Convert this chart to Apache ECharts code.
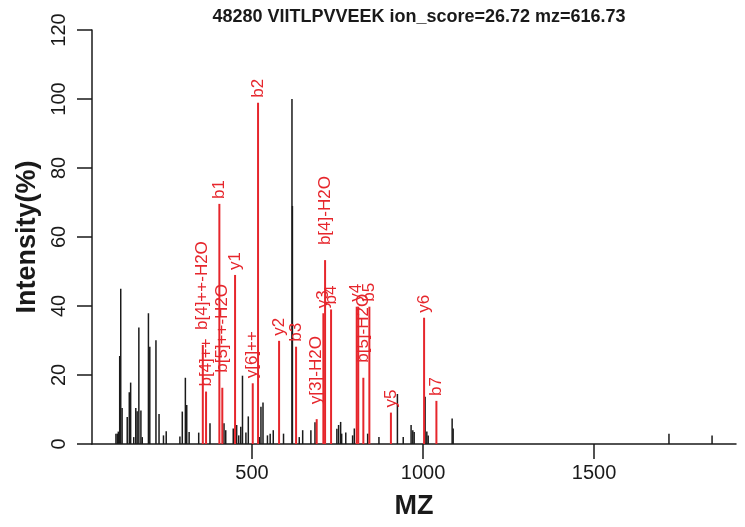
<!DOCTYPE html>
<html><head><meta charset="utf-8">
<script src="https://cdn.jsdelivr.net/npm/echarts@6/dist/echarts.min.js"></script>
<style>html,body{margin:0;padding:0;background:#fff}#c{width:745px;height:527px}</style>
</head><body><div id="c"></div>
<script>
const titleText = '48280 VIITLPVVEEK ion_score=26.72 mz=616.73';
const xTicks = [500, 1000, 1500];
// unmatched (black) peaks
const blackMz = [102,106,109,113,116,120,135,141,145,154,160,164,169,175,179,197,201,219,228,241,249,289,296,305,309,316,344,377,418,423,445,455,461,467,472,482,489,521,526,532,545,553,562,592,616.7,618,638,648,672,684,748,753,759,762,774,794,799,838,871,925,942,965,970,974,1006,1011,1015,1085,1088,1719,1845];
const blackInt = [3,3,3.6,25.5,45,10.4,7.8,15,17.8,2,10.4,9.5,33.8,9.7,2,37.9,28.2,30.1,8.7,2.5,3.7,2.2,9.4,19.2,11.3,3.5,3.3,6,6,4,4.5,5.5,2.5,5,19.8,3.3,8,2,10.8,12,2.5,3,4,3,100,69,2,4,4,6.3,4.4,5.5,6.4,3,3.3,2.5,4.5,3,2,14.5,2,5.5,4,3.5,13.7,3.6,2.5,7.4,4.5,3,2.5];
// matched (red) peaks
const redMz = [356,365.5,404.4,413,450.3,502,517.5,579,628.7,689,708.5,713.5,731,806,810.5,825.4,843,906,1003,1039];
const redInt = [28.7,15.2,69.6,16.3,49,17.6,98.9,29.9,28.2,7.2,37.9,53.3,39,39.8,39.8,19.2,39.8,9.1,36.6,12.5];
const redLabels = ['b[4]++-H2O','b[4]++','b1','b[5]++-H2O','y1','y[6]++','b2','y2','b3','y[3]-H2O','y3','b[4]-H2O','b4','y4','','b[5]-H2O','b5','y5','y6','b7'];

const RED = '#e6262c';
const INK = '#1a1a1a';
const FONT = 'Liberation Sans, Arial, Helvetica, sans-serif';
const chart = echarts.init(document.getElementById('c'), null, {renderer:'canvas'});

function blackItem(params, api){
  const b = api.coord([api.value(0), 0]);
  const t = api.coord([api.value(0), api.value(1)]);
  return {type:'line', shape:{x1:b[0], y1:b[1], x2:t[0], y2:t[1]}, style:{stroke:INK, lineWidth:1.5}};
}
function redItem(params, api){
  const b = api.coord([api.value(0), 0]);
  const t = api.coord([api.value(0), api.value(1)]);
  const lab = redLabels[params.dataIndex];
  const gap = lab.indexOf('H2O') >= 0 ? 15 : 5;
  return {type:'group', children:[
    {type:'line', shape:{x1:b[0], y1:b[1], x2:t[0], y2:t[1]}, style:{stroke:RED, lineWidth:2}},
    {type:'text', x:t[0], y:t[1]-gap, rotation:Math.PI/2,
      style:{text:lab, fill:RED, font:'17px ' + FONT, align:'left', verticalAlign:'middle'}}
  ]};
}

chart.setOption({
  animation:false,
  title:{text:titleText, left:414, top:3, textAlign:'center',
    textStyle:{fontFamily:FONT, fontWeight:'bold', fontSize:18, color:INK}},
  grid:{left:92, right:9, top:30, bottom:83},
  xAxis:{type:'value', min:32, max:1915,
    name:'MZ', nameLocation:'middle', nameGap:49,
    nameTextStyle:{fontFamily:FONT, fontWeight:'bold', fontSize:27, color:INK},
    axisLine:{lineStyle:{color:INK, width:1.5}},
    axisTick:{customValues:xTicks, length:15, lineStyle:{color:INK, width:1.5}},
    axisLabel:{customValues:xTicks, formatter:v=>String(v), fontFamily:FONT, fontSize:20, color:INK, margin:19},
    splitLine:{show:false}},
  yAxis:{type:'value', min:0, max:120, interval:20,
    name:'Intensity(%)', nameLocation:'middle', nameGap:49,
    nameTextStyle:{fontFamily:FONT, fontWeight:'bold', fontSize:27, color:INK},
    axisLine:{show:true, lineStyle:{color:INK, width:1.5}},
    axisTick:{show:true, length:15, lineStyle:{color:INK, width:1.5}},
    axisLabel:{rotate:90, fontFamily:FONT, fontSize:20, color:INK, margin:33, verticalAlign:'middle', align:'center'},
    splitLine:{show:false}},
  series:[
    {type:'custom', renderItem:blackItem, data:blackMz.map((m,i)=>[m, blackInt[i]]), clip:false},
    {type:'custom', renderItem:redItem, data:redMz.map((m,i)=>[m, redInt[i]]), clip:false}
  ]
});
</script></body></html>
